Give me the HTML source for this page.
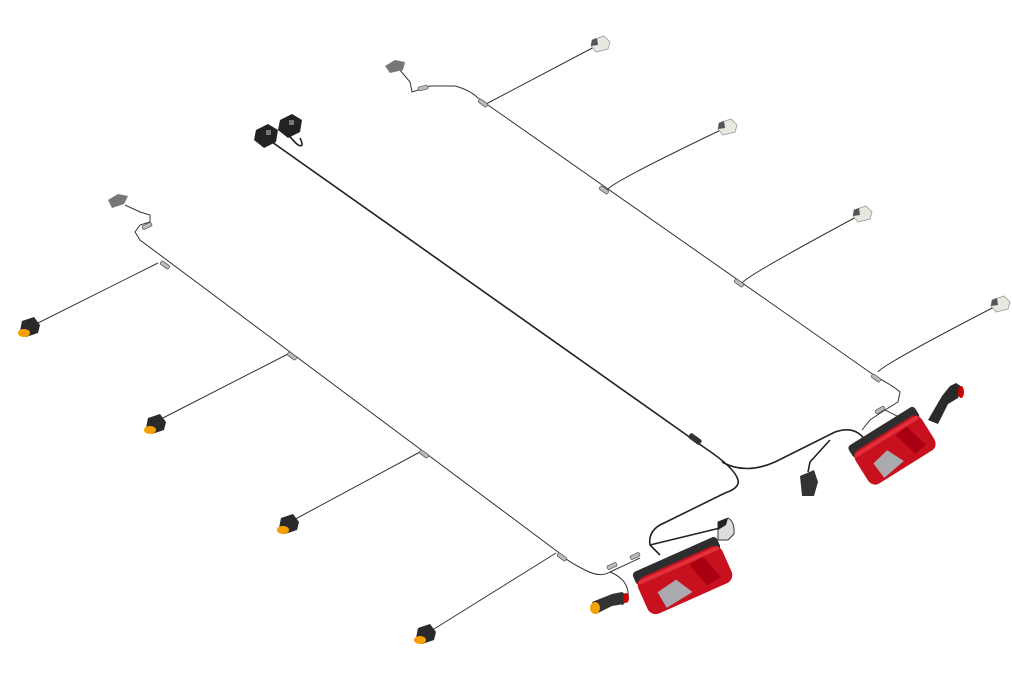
<!DOCTYPE html>
<html><head><meta charset="utf-8"><style>
html,body{margin:0;padding:0;background:#fff;}
svg{display:block}
</style></head><body>
<svg width="1012" height="675" viewBox="0 0 1012 675" xmlns="http://www.w3.org/2000/svg">
<defs>
<g id="orange">
  <path d="M-8,-6 L4,-10 L10,-2 L8,6 L-4,10 L-10,4 Z" fill="#2a2a2a"/>
  <ellipse cx="-6" cy="6" rx="6" ry="4" fill="#f5a000"/>
</g>
<g id="white">
  <path d="M-8,-4 L4,-8 L10,-2 L8,5 L-4,8 L-9,2 Z" fill="#e8e8e0" stroke="#999" stroke-width="0.8"/>
  <path d="M-8,-4 L-3,-6 L-2,1 L-9,2 Z" fill="#555"/>
</g>
<g id="conn"><rect x="-5" y="-2" width="10" height="4" rx="1.5" fill="#bbb" stroke="#555" stroke-width="0.7"/></g>
<g id="lamp">
  <rect x="-46" y="-28" width="92" height="14" rx="4" fill="#2e2e2e"/>
  <rect x="-46" y="-20" width="92" height="40" rx="9" fill="#c8101e"/>
  <rect x="-44" y="-18" width="88" height="4" rx="2" fill="#e0303a"/>
  <path d="M-30,0 L-8,-4 L2,14 L-28,18 Z" fill="#a9a9ae"/>
  <path d="M10,-12 L26,-14 L34,12 L18,14 Z" fill="#a80010"/>
</g>
</defs>

<!-- LEFT HARNESS -->
<g fill="none" stroke="#333" stroke-width="1">
  <path d="M125,205 L140,212 L150,215 L150,222 L140,225 L135,232 L140,240 L558,552 Q565,560 585,570 Q600,578 610,572 L640,558"/>
  <path d="M158,263 L30,327"/>
  <path d="M288,354 L155,422"/>
  <path d="M420,452 L288,523"/>
  <path d="M556,553 L426,634"/>
  <path d="M610,572 Q630,580 628,598 L622,605"/>
</g>
<use href="#conn" transform="translate(147,226) rotate(-25)"/>
<use href="#conn" transform="translate(165,265) rotate(36)"/>
<use href="#conn" transform="translate(292,356) rotate(36)"/>
<use href="#conn" transform="translate(424,454) rotate(36)"/>
<use href="#conn" transform="translate(562,557) rotate(36)"/>
<use href="#conn" transform="translate(612,566) rotate(-25)"/>
<use href="#conn" transform="translate(635,556) rotate(-25)"/>
<path d="M108,200 L118,194 L128,196 L124,204 L112,208 Z" fill="#777"/>
<use href="#orange" transform="translate(30,327)"/>
<use href="#orange" transform="translate(156,424)"/>
<use href="#orange" transform="translate(289,524)"/>
<use href="#orange" transform="translate(426,634)"/>

<!-- RIGHT HARNESS -->
<g fill="none" stroke="#333" stroke-width="1">
  <path d="M400,70 L410,82 L412,92 L418,90 L430,86 L455,86 Q470,90 478,98 L878,378 Q892,385 900,392 L898,402 L885,410 L870,420 L862,430"/>
  <path d="M486,104 L598,45"/>
  <path d="M607,190 Q612,182 725,128"/>
  <path d="M742,283 Q748,275 860,215"/>
  <path d="M878,372 Q882,365 998,305"/>
  <path d="M885,410 L905,420 L915,425"/>
</g>
<use href="#conn" transform="translate(423,88) rotate(-15)"/>
<use href="#conn" transform="translate(483,103) rotate(36)"/>
<use href="#conn" transform="translate(604,190) rotate(36)"/>
<use href="#conn" transform="translate(739,283) rotate(36)"/>
<use href="#conn" transform="translate(876,378) rotate(36)"/>
<use href="#conn" transform="translate(880,410) rotate(-30)"/>
<path d="M385,66 L395,60 L405,62 L403,70 L390,73 Z" fill="#777"/>
<use href="#white" transform="translate(600,44)"/>
<use href="#white" transform="translate(727,127)"/>
<use href="#white" transform="translate(862,214)"/>
<use href="#white" transform="translate(1000,304)"/>

<!-- MAIN DARK CABLE -->
<g fill="none" stroke="#222" stroke-width="1.6">
  <path d="M265,135 L272,142 L705,448 Q735,468 738,480 Q740,488 725,493 L660,525 Q648,532 650,545 L660,555"/>
  <path d="M722,462 Q745,475 775,462 L835,432 Q855,425 865,440"/>
  <path d="M285,130 Q292,140 298,145 Q305,148 300,138"/>
  <path d="M650,545 L720,528"/>
  <path d="M830,440 L810,462 L808,472"/>
</g>
<rect x="688" y="436" width="14" height="6" rx="2" fill="#333" transform="rotate(36 695 439)"/>
<path d="M256,130 L268,124 L278,130 L276,142 L264,148 L254,140 Z" fill="#222"/>
<path d="M280,120 L292,114 L302,120 L300,132 L288,138 L278,130 Z" fill="#222"/>
<rect x="266" y="130" width="5" height="5" fill="#777"/>
<rect x="289" y="120" width="5" height="5" fill="#777"/>

<!-- small parts -->
<path d="M718,522 L728,518 Q735,522 734,534 L728,540 L718,540 Z" fill="#ddd" stroke="#333" stroke-width="1"/>
<path d="M718,522 L728,518 L726,525 L718,530 Z" fill="#222"/>
<path d="M800,476 L814,470 L818,482 L814,496 L802,496 Z" fill="#333"/>
<path d="M592,602 L612,594 L622,592 L628,596 L624,604 L612,606 L596,614 Z" fill="#333"/>
<ellipse cx="595" cy="608" rx="5" ry="6" fill="#f5a000"/>
<ellipse cx="626" cy="598" rx="3" ry="5" fill="#c00"/>
<path d="M928,420 L942,396 L950,386 L956,383 L962,387 L958,398 L948,404 L938,424 Z" fill="#2a2a2a"/>
<ellipse cx="961" cy="392" rx="3" ry="6" fill="#c00"/>

<!-- REAR LAMPS -->
<use href="#lamp" transform="translate(685,580) rotate(-24)"/>
<use href="#lamp" transform="translate(895,450) rotate(-32) scale(0.85,1)"/>
</svg>
</body></html>
